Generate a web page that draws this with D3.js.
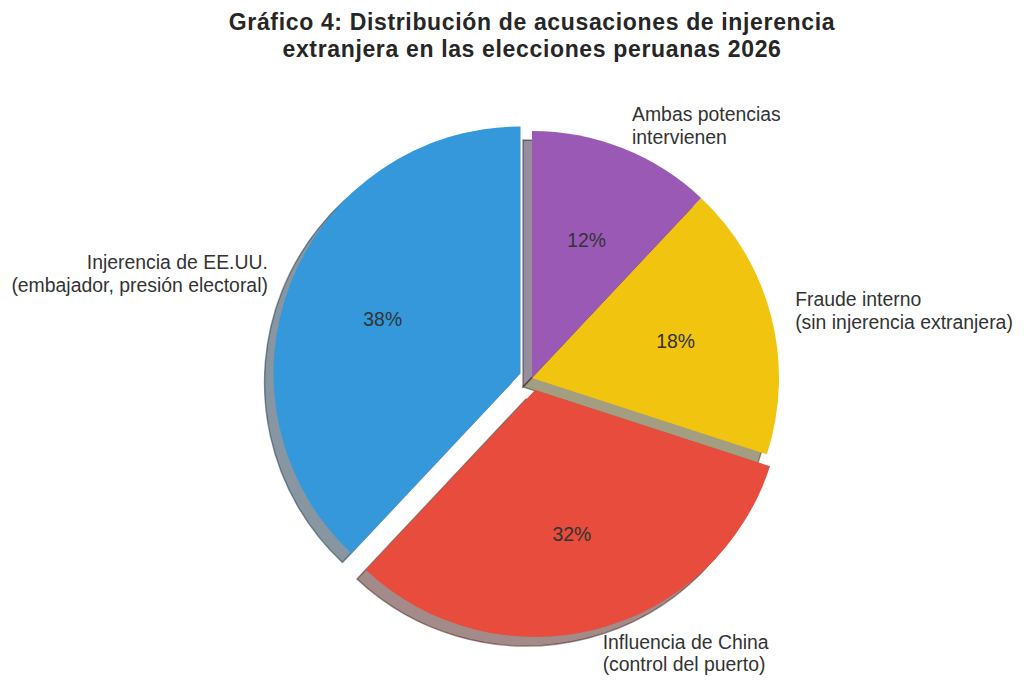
<!DOCTYPE html>
<html lang="es">
<head>
<meta charset="utf-8">
<title>Gráfico 4</title>
<style>
  body { margin: 0; background: #fff; }
  svg text { font-family: "Liberation Sans", Arial, sans-serif; }
  .lbl { font-size: 19.4px; fill: #333; }
  .pct { font-size: 19.4px; fill: #333; }
  .title { font-size: 23px; font-weight: bold; fill: #262626; letter-spacing: 0.65px; }
</style>
</head>
<body>
<script src="https://cdn.jsdelivr.net/npm/d3@7"></script>
<script>

var categories = [
  ["Injerencia de EE.UU.", "(embajador, presión electoral)"],
  ["Influencia de China", "(control del puerto)"],
  ["Fraude interno", "(sin injerencia extranjera)"],
  ["Ambas potencias", "intervienen"]
];
var values = [38, 32, 18, 12];
var colors = ["#3498db", "#e74c3c", "#f1c40f", "#9b59b6"];
var explode = [0.05, 0.05, 0, 0];
var titleLines = ["Gráfico 4: Distribución de acusaciones de injerencia",
                  "extranjera en las elecciones peruanas 2026"];

var w = 1024, h = 700;
var cx = 532, cy = 378, r = 247;
var shadowOff = 9;

var svg = d3.select("body").append("svg")
  .attr("width", w)
  .attr("height", h);

// counterclockwise from the top, like the original
var pie = d3.pie().sort(null).startAngle(0).endAngle(-2 * Math.PI);
var arcs = pie(values);
var arc = d3.arc().innerRadius(0).outerRadius(r);

function mid(d) { return (d.startAngle + d.endAngle) / 2; }
function offset(d, i, k) {
  var a = mid(d);
  return [Math.sin(a) * k * r, -Math.cos(a) * k * r];
}
function shade(c) {
  c = d3.rgb(c);
  return d3.rgb(c.r * 0.3, c.g * 0.3, c.b * 0.3);
}

var g = svg.append("g").attr("transform", "translate(" + cx + "," + cy + ")");

// shadows first
g.selectAll("path.shadow")
  .data(arcs)
  .enter().append("path")
  .attr("class", "shadow")
  .attr("d", arc)
  .attr("transform", function(d, i) {
    var o = offset(d, i, explode[i]);
    return "translate(" + (o[0] - shadowOff) + "," + (o[1] + shadowOff) + ")";
  })
  .attr("fill", function(d, i) { return shade(colors[i]); })
  .attr("fill-opacity", 0.5)
  .attr("stroke", function(d, i) { return shade(colors[i]); })
  .attr("stroke-opacity", 0.5)
  .attr("stroke-width", 1.4);

g.selectAll("path.slice")
  .data(arcs)
  .enter().append("path")
  .attr("class", "slice")
  .attr("d", arc)
  .attr("transform", function(d, i) {
    var o = offset(d, i, explode[i]);
    return "translate(" + o[0] + "," + o[1] + ")";
  })
  .attr("fill", function(d, i) { return colors[i]; });

// percentages
g.selectAll("text.pct")
  .data(arcs)
  .enter().append("text")
  .attr("class", "pct")
  .attr("x", function(d, i) { return offset(d, i, explode[i] + 0.6)[0]; })
  .attr("y", function(d, i) { return offset(d, i, explode[i] + 0.6)[1]; })
  .attr("text-anchor", "middle")
  .attr("dominant-baseline", "central")
  .text(function(d) { return Math.round(d.value) + "%"; });

// outer labels
var lineH = 22.5;
var labels = g.selectAll("text.lbl")
  .data(arcs)
  .enter().append("text")
  .attr("class", "lbl")
  .attr("text-anchor", function(d) { return Math.sin(mid(d)) > 0 ? "start" : "end"; })
  .attr("dominant-baseline", "central");

labels.each(function(d, i) {
  var p = offset(d, i, explode[i] + 1.1);
  var lines = categories[i];
  var t = d3.select(this);
  lines.forEach(function(s, j) {
    t.append("tspan")
      .attr("x", p[0])
      .attr("y", p[1] + (j - (lines.length - 1) / 2) * lineH)
      .text(s);
  });
});

svg.append("text")
  .attr("class", "title")
  .attr("text-anchor", "middle")
  .selectAll("tspan")
  .data(titleLines)
  .enter().append("tspan")
  .attr("x", cx)
  .attr("y", function(d, i) { return 30 + i * 27; })
  .text(function(d) { return d; });

</script>
</body>
</html>
